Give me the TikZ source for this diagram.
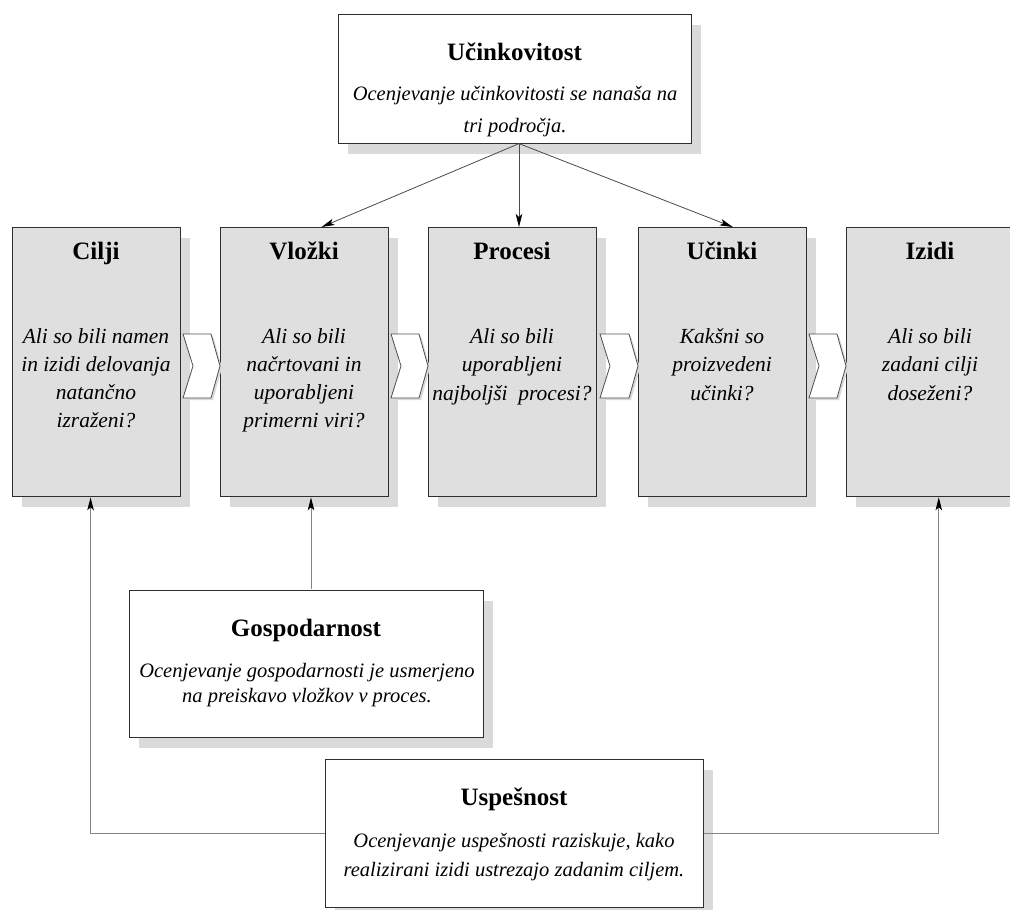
\documentclass[tikz,border=0pt]{standalone}
\usepackage{fontspec}
\setmainfont{Liberation Serif}
\usetikzlibrary{shadows,arrows.meta,calc}

\definecolor{boxfill}{HTML}{DFDFDF}
\definecolor{shade}{HTML}{DADADA}
\definecolor{edge}{HTML}{2E2E2E}
\definecolor{wire}{HTML}{858585}
\definecolor{wiredark}{HTML}{4A4A4A}

% struts that fix the height of the first line and the depth of the last
\newcommand\FirstLine{\rule{0pt}{16pt}}
\newcommand\LastLine{\rule[-6pt]{0pt}{6pt}}

\begin{document}
\begin{tikzpicture}[x=1pt,y=-1pt,
  shad/.style={drop shadow={shadow xshift=9pt,shadow yshift=-10pt,fill=shade,opacity=1}},
  panel/.style={draw=edge,line width=1.3pt,fill=white,shad,inner sep=0pt,anchor=north west},
  stage/.style={panel,fill=boxfill,minimum width=168pt,minimum height=269pt},
  chev/.style={draw=edge!85,line width=0.8pt,fill=white,line join=miter,
    drop shadow={shadow xshift=2pt,shadow yshift=-2pt,fill=shade,opacity=1}},
  ttl/.style={font=\bfseries\fontsize{25}{30}\selectfont,text height=16.5pt,text depth=0pt,inner sep=0pt},
  body/.style={font=\itshape\fontsize{20.5}{#1}\selectfont,align=center,inner sep=0pt},
  sbody/.style={font=\itshape\fontsize{21.5}{#1}\selectfont,align=center,inner sep=0pt},
  link/.style={draw=wire,line width=1pt,-{Stealth[length=13pt,width=6.5pt,inset=3pt,color=black]}},
  linkdark/.style={link,draw=wiredark,line width=0.8pt}
]
\useasboundingbox (0,0) rectangle (1010,910);
\clip (0,0) rectangle (1010,910);

% boxes
\node[panel,minimum width=353pt,minimum height=129pt] (eff) at (338,14) {};
\node[stage] (cilji)   at (12,227)  {};
\node[stage] (vlozki)  at (220,227) {};
\node[stage] (procesi) at (428,227) {};
\node[stage] (ucinki)  at (638,227) {};
\node[stage] (izidi)   at (846,227) {};
\node[panel,minimum width=354pt,minimum height=147pt] (gos) at (129,590) {};
\node[panel,minimum width=378pt,minimum height=148pt] (usp) at (325,759) {};

% chevrons between the stages
\foreach \r/\l in {181/220, 389/428, 598/638, 807/846}{
  \draw[chev] (\r+2,334) -- (\l-9,334) -- (\l,366) -- (\l-9,398) -- (\r+2,398) -- (\r+12,366) -- cycle;
}

% texts
\node[ttl] (effT) at (514.5,52) {Učinkovitost};
\node[body=32] (effB) at (515,111) {\FirstLine Ocenjevanje učinkovitosti se nanaša na\\tri področja.\LastLine};

\node[ttl] (ciljiT)   at (96,251)  {Cilji};
\node[ttl] (vlozkiT)  at (304,251) {Vložki};
\node[ttl] (procesiT) at (512,251) {Procesi};
\node[ttl] (ucinkiT)  at (722,251) {Učinki};
\node[ttl] (izidiT)   at (930,251) {Izidi};

\node[sbody=28.3] (ciljiB)  at (96,380.5)  {\FirstLine Ali so bili namen\\in izidi delovanja\\natančno\\izraženi?\LastLine};
\node[sbody=28.3] (vlozkiB) at (304,380.5) {\FirstLine Ali so bili\\načrtovani in\\uporabljeni\\primerni viri?\LastLine};
\node[sbody=28.5] (procesiB) at (512,366.5) {\FirstLine Ali so bili\\uporabljeni\\najboljši~ procesi?\LastLine};
\node[sbody=28.5] (ucinkiB)  at (722,366.5) {\FirstLine Kakšni so\\proizvedeni\\učinki?\LastLine};
\node[sbody=28.5] (izidiB)   at (930,366.5) {\FirstLine Ali so bili\\zadani cilji\\doseženi?\LastLine};

\node[ttl] (gosT) at (306,628) {Gospodarnost};
\node[body=25] (gosB) at (307,684.5) {\FirstLine Ocenjevanje gospodarnosti je usmerjeno\\na preiskavo vložkov v proces.\LastLine};

\node[ttl] (uspT) at (514,797) {Uspešnost};
\node[body=29] (uspB) at (514,856.5) {\FirstLine Ocenjevanje uspešnosti raziskuje, kako\\realizirani izidi ustrezajo zadanim ciljem.\LastLine};

% connectors
\coordinate (effOut) at (519,143.6);
\coordinate (vlozkiIn) at ($(vlozki.north west)!0.6!(vlozki.north east)$);
\coordinate (ucinkiIn) at ($(ucinki.north west)!0.56!(ucinki.north east)$);
\draw[linkdark] (effOut) -- (vlozkiIn);
\draw[linkdark] (effOut) -- (effOut |- procesi.north);
\draw[linkdark] (effOut) -- (ucinkiIn);

\coordinate (gosOut) at (311,589.4);
\draw[link] (gosOut) -- (gosOut |- vlozki.south);

\coordinate (ciljiIn) at ($(cilji.south west)!0.464!(cilji.south east)$);
\coordinate (izidiIn) at ($(izidi.south west)!0.548!(izidi.south east)$);
\draw[link] (usp.west) -| (ciljiIn);
\draw[link] (usp.east) -| (izidiIn);
\end{tikzpicture}
\end{document}
